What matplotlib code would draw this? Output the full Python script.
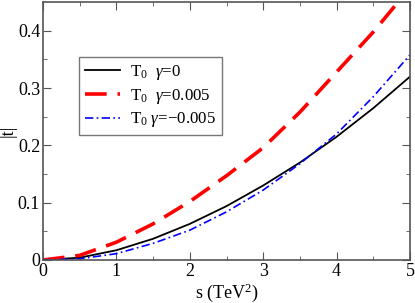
import matplotlib.pyplot as plt
import numpy as np

plt.rcParams['font.family'] = 'Liberation Serif'
plt.rcParams['mathtext.fontset'] = 'custom'
plt.rcParams['mathtext.rm'] = 'Liberation Serif'
plt.rcParams['mathtext.it'] = 'Liberation Serif:italic'

# values
s = [0, 0.5, 1, 1.5, 2, 2.5, 3, 3.5, 4, 4.5, 5]
t_g0 = [0, 0.004, 0.017, 0.037, 0.063, 0.094, 0.130, 0.170, 0.215, 0.265, 0.320]
t_gp = [0, 0.008, 0.031, 0.063, 0.102, 0.147, 0.196, 0.258, 0.328, 0.398, 0.475]
t_gm = [0, 0.002, 0.011, 0.029, 0.052, 0.084, 0.122, 0.168, 0.220, 0.285, 0.358]
labels = [r'T$_0$  $\gamma$=0', r'T$_0$  $\gamma$=0.005', r'T$_0$ $\gamma$=$-$0.005']

fig = plt.figure(figsize=(4.15, 3.03), dpi=100)
ax = fig.add_axes([0.1036, 0.142, 0.8844, 0.851])

ax.plot(s, t_g0, color='black', lw=1.3, label=labels[0])
ax.plot(s, t_gp, color='red', lw=2.6, dashes=(6, 3), label=labels[1])
ax.plot(s, t_gm, color='blue', lw=1.2, dashes=(5, 2, 1, 2), label=labels[2])

ax.set_xlim(0, 5)
ax.set_ylim(0, 0.45)
ax.set_xticks([0, 1, 2, 3, 4, 5])
ax.set_xticks(np.arange(0.5, 5, 1), minor=True)
ax.set_yticks([0, 0.1, 0.2, 0.3, 0.4])
ax.set_yticklabels(['0', '0.1', '0.2', '0.3', '0.4'])
ax.set_yticks(np.arange(0.05, 0.45, 0.1), minor=True)
ax.tick_params(which='both', direction='in', top=True, right=True, labelsize=13,
               color='#555555', pad=2)
ax.tick_params(which='major', length=6)
ax.tick_params(which='minor', length=3)
for sp in ax.spines.values():
    sp.set_color('#555555')
    sp.set_linewidth(1.2)

ax.set_xlabel(r's (TeV$^2$)', fontsize=13, labelpad=1)
ax.set_ylabel('|t|', fontsize=13)
ax.yaxis.set_label_coords(-0.072, 0.5)

leg = ax.legend(loc='upper left', bbox_to_anchor=(0.098, 0.787), fontsize=12.2,
                frameon=True, fancybox=False, handlelength=2.1, borderpad=0.35,
                labelspacing=0.28, handletextpad=0.55, borderaxespad=0)
leg.get_frame().set_edgecolor('#555555')
leg.get_frame().set_linewidth(1.0)

fig.savefig('out.png', dpi=100)
